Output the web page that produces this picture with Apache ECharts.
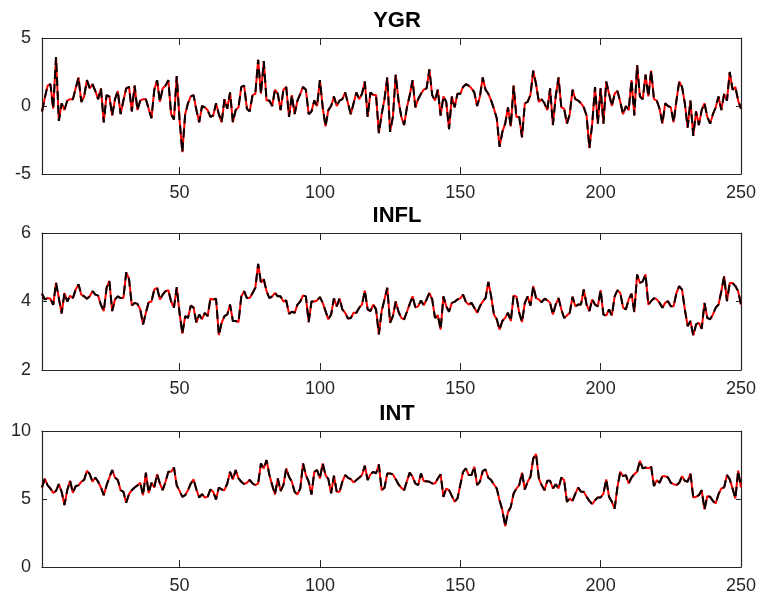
<!DOCTYPE html>
<html>
<head>
<meta charset="utf-8">
<script src="https://cdn.jsdelivr.net/npm/echarts@6/dist/echarts.min.js"></script>
<style>
html,body{margin:0;padding:0;background:#fff;}
#chart{width:759px;height:599px;}
</style>
</head>
<body>
<div id="chart"></div>
<script>
const titles = ["YGR", "INFL", "INT"];
const xTickLabels = [50, 100, 150, 200, 250];
const yTicks = [[-5, 0, 5], [2, 4, 6], [0, 5, 10]];

const ygr = [
-0.4, 0.6, 1.5, 1.6, -0.2, 3.6, -1.1, 0.2, -0.3, 0.4,
0.5, 0.5, 1.3, 2.1, 0.3, 0.7, 1.9, 1.3, 1.6, 1.1,
0.5, 1.3, -1.2, 0.8, 0.7, -0.7, 0.5, 1.1, -0.6, 0.4,
1.3, 1.4, -0.4, 1.5, -0.3, 0.4, 0.5, 0.5, -0.2, -0.9,
1.2, 1.9, 0.3, 1.3, 1.5, 1.9, -0.6, -1.0, 2.2, -1.0,
-3.4, -0.6, 0.2, 0.7, 0.8, -0.3, -1.2, 0.0, -0.1, -0.3,
-0.8, -0.7, 0.2, -0.6, -1.2, 0.5, -0.2, 1.0, -1.2, -0.3,
-0.1, 1.4, 1.5, -0.2, -0.4, 0.8, 0.9, 3.4, 0.9, 3.3,
0.4, 0.4, 0.0, 1.2, 0.9, -0.3, 1.2, 1.4, -0.8, 0.8,
-0.6, 0.4, 0.9, 1.4, 1.2, -0.6, -0.4, 0.4, 0.0, 1.9,
-0.1, -1.5, -0.3, 0.0, 0.7, 0.0, 0.4, 0.5, 1.0, 0.2,
-0.6, 0.2, 1.0, 0.5, 0.9, 1.8, -0.8, 1.0, 0.8, 0.8,
-2.0, -0.6, 0.5, 2.1, -1.9, -0.8, 2.3, 0.4, -0.8, -1.4,
-0.1, 0.8, 1.9, -0.1, 0.5, 0.9, 1.2, 1.3, 2.7, 0.8,
0.4, 1.2, -0.7, 0.7, 0.3, -1.7, 0.7, -0.1, 0.9, 0.9,
1.4, 1.6, 1.5, 1.3, 1.0, 0.0, 0.7, 2.1, 1.2, 0.9,
0.4, -0.2, -0.9, -3.0, -1.9, -1.3, -0.1, -1.5, 1.5, -0.8,
-0.8, -2.3, 0.2, 0.3, 0.8, 2.6, 1.6, 0.3, 0.5, 0.2,
-0.3, 1.3, -1.4, 0.7, 2.1, -0.1, -0.2, -1.3, -0.6, 1.2,
0.5, 0.4, 0.2, -0.1, -0.7, -3.1, -1.3, 1.4, -1.3, 1.3,
-1.3, 1.8, 0.9, 0.0, 0.9, 1.1, 0.3, -0.6, 0.0, -0.3,
1.9, -0.7, 3.0, 0.7, 0.5, 2.3, 0.7, 2.6, 0.5, 0.4,
-0.2, -1.3, 0.2, 0.0, -0.1, -1.2, 0.4, 1.8, 1.4, 0.2,
-1.6, 0.4, -2.2, -0.4, -1.4, -0.3, 0.2, -0.8, -1.3, -0.6,
-0.1, 0.7, -0.3, 0.9, 0.4, 2.5, 1.2, 1.4, 0.4, -0.2
];

const infl = [
4.23, 4.06, 4.1, 4.08, 3.9, 4.55, 4.1, 3.65, 4.25, 4.0,
4.17, 4.1, 4.35, 4.5, 4.2, 4.15, 4.08, 4.15, 4.3, 4.2,
4.17, 3.9, 3.72, 4.4, 4.6, 3.72, 4.06, 4.15, 4.1, 4.1,
4.85, 4.66, 3.88, 3.96, 3.93, 3.77, 3.33, 3.67, 3.98, 4.0,
4.35, 4.4, 4.06, 4.2, 4.3, 4.33, 4.0, 3.82, 4.42, 3.67,
3.06, 3.57, 3.52, 3.88, 3.82, 3.38, 3.62, 3.48, 3.67, 3.57,
4.08, 4.06, 4.08, 3.02, 3.38, 3.57, 3.62, 3.91, 3.43, 3.43,
3.4, 4.15, 4.3, 4.1, 4.1, 4.25, 4.4, 5.1, 4.55, 4.65,
4.3, 4.1, 4.15, 4.25, 4.15, 4.15, 4.0, 4.03, 3.64, 3.7,
3.67, 3.91, 4.0, 4.18, 4.15, 3.4, 4.0, 4.0, 4.03, 4.13,
3.96, 3.72, 3.48, 3.62, 4.09, 3.86, 4.09, 3.77, 3.67, 3.5,
3.52, 3.67, 3.67, 3.82, 3.91, 4.32, 3.77, 3.72, 3.91, 3.77,
3.04, 3.72, 4.06, 4.4, 3.38, 3.57, 4.0, 3.7, 3.52, 3.48,
3.7, 3.93, 4.15, 3.83, 3.86, 4.03, 3.89, 4.06, 4.25, 4.06,
3.52, 3.6, 3.18, 4.15, 3.86, 3.7, 3.96, 3.99, 4.06, 4.09,
4.2, 3.99, 3.91, 3.96, 3.82, 3.67, 3.86, 4.0, 4.1, 4.57,
4.15, 3.62, 3.48, 3.18, 3.43, 3.52, 3.67, 3.43, 4.17, 4.15,
3.67, 3.4, 3.96, 4.15, 3.88, 4.45, 4.1, 4.06, 3.98, 4.08,
4.04, 3.96, 3.62, 3.91, 4.1, 3.77, 3.52, 3.59, 3.67, 4.14,
3.86, 3.91, 3.91, 4.35, 3.91, 3.72, 4.06, 3.91, 3.86, 4.33,
3.62, 3.59, 3.77, 3.59, 4.15, 4.33, 4.25, 3.82, 3.77, 4.06,
4.23, 3.69, 4.79, 4.54, 4.59, 4.79, 3.91, 4.01, 4.1, 4.06,
3.96, 3.82, 3.96, 4.01, 3.86, 3.86, 4.25, 4.45, 4.35, 3.77,
3.28, 3.43, 3.01, 3.33, 3.38, 3.2, 3.96, 3.52, 3.48, 3.62,
3.82, 3.91, 4.3, 4.74, 4.01, 4.54, 4.54, 4.45, 4.3, 3.91
];

const intr = [
5.85, 6.5, 6.0, 5.77, 5.45, 5.6, 6.1, 5.53, 4.55, 5.65,
6.34, 5.45, 5.95, 6.0, 6.27, 6.4, 7.08, 6.83, 6.27, 6.58,
6.27, 5.85, 5.28, 6.0, 6.58, 7.13, 6.58, 6.4, 5.65, 5.53,
4.72, 5.36, 5.65, 5.85, 6.0, 6.19, 5.28, 6.93, 5.45, 6.19,
5.85, 6.83, 6.14, 5.65, 6.27, 7.0, 7.0, 7.32, 6.0, 5.6,
5.16, 5.28, 5.65, 6.14, 6.44, 5.7, 5.11, 5.36, 5.11, 5.16,
5.7, 5.53, 4.96, 5.85, 5.7, 5.65, 6.14, 7.0, 6.44, 7.13,
6.51, 6.27, 6.1, 6.19, 6.4, 6.14, 6.02, 6.14, 7.62, 7.25,
7.86, 6.76, 6.02, 5.33, 6.51, 5.58, 6.02, 7.25, 6.63, 6.27,
5.53, 5.33, 5.77, 7.62, 6.76, 6.27, 5.33, 7.0, 7.13, 6.51,
7.62, 6.76, 6.46, 5.41, 6.71, 5.53, 5.53, 6.27, 6.76, 6.56,
6.46, 6.22, 6.39, 6.56, 6.76, 7.44, 6.39, 6.81, 7.0, 6.88,
7.54, 5.65, 5.82, 6.88, 6.88, 6.81, 6.46, 6.07, 5.82, 5.65,
6.31, 6.95, 6.63, 6.14, 6.02, 6.88, 6.31, 6.31, 6.27, 6.14,
6.14, 6.51, 6.81, 5.16, 5.77, 5.65, 5.23, 4.79, 5.04, 6.02,
7.0, 7.25, 6.76, 6.76, 7.37, 6.02, 6.27, 7.05, 7.17, 6.56,
6.39, 6.07, 5.77, 4.9, 4.18, 3.0, 4.05, 4.42, 5.4, 5.77,
6.02, 6.93, 5.7, 6.27, 6.63, 7.99, 8.3, 6.51, 6.02, 5.65,
6.34, 6.34, 5.77, 6.09, 5.77, 6.58, 6.39, 4.79, 5.04, 4.86,
5.4, 5.85, 5.53, 5.53, 5.16, 4.86, 4.62, 4.91, 5.11, 5.11,
5.4, 6.44, 5.16, 4.79, 4.3, 5.9, 7.0, 6.68, 6.76, 6.14,
6.58, 6.83, 7.0, 7.81, 7.25, 7.32, 7.25, 7.37, 5.95, 6.39,
6.19, 6.68, 6.68, 6.58, 6.19, 6.09, 6.02, 6.19, 6.68, 6.34,
6.27, 6.88, 5.11, 5.16, 5.28, 5.65, 4.23, 5.21, 5.16, 4.86,
4.67, 5.36, 5.77, 5.85, 6.76, 6.44, 5.77, 5.04, 7.08, 5.85
];

const seriesData = [ygr, infl, intr];
const periods = ygr.map((_, i) => i + 1);

const AX = '#262626';
const FONT = 'Liberation Sans, Arial, Helvetica, sans-serif';
const gridTops = [38, 233, 431];
const gridHeights = [136, 137, 136];

const grids = [], xAxes = [], yAxes = [], series = [], titleArr = [];
for (let k = 0; k < 3; k++) {
  grids.push({ left: 42, right: 17, top: gridTops[k], height: gridHeights[k], containLabel: false });
  const yt = yTicks[k];
  const yInt = yt[1] - yt[0];
  const baseX = {
    gridIndex: k, type: 'value', min: periods[0], max: periods[periods.length - 1],
    axisLine: { show: true, onZero: false, lineStyle: { color: AX, width: 1.2 } },
    splitLine: { show: false },
    axisTick: { show: true, inside: true, length: 7, customValues: xTickLabels, lineStyle: { color: AX, width: 1 } }
  };
  xAxes.push(Object.assign({}, baseX, {
    position: 'bottom',
    axisLabel: { show: true, customValues: xTickLabels, color: AX, fontSize: 18, fontFamily: FONT, margin: 10 }
  }));
  xAxes.push(Object.assign({}, baseX, { position: 'top', axisLabel: { show: false } }));
  const baseY = {
    gridIndex: k, type: 'value', min: yt[0], max: yt[yt.length - 1], interval: yInt,
    axisLine: { show: true, onZero: false, lineStyle: { color: AX, width: 1.2 } },
    splitLine: { show: false },
    axisTick: { show: true, inside: true, length: 5, lineStyle: { color: AX, width: 1 } }
  };
  yAxes.push(Object.assign({}, baseY, {
    position: 'left',
    axisLabel: { show: true, color: AX, fontSize: 18, fontFamily: FONT, margin: 11 }
  }));
  yAxes.push(Object.assign({}, baseY, { position: 'right', axisLabel: { show: false } }));

  const pts = seriesData[k].map((v, i) => [periods[i], v]);
  series.push({
    type: 'line', xAxisIndex: 2 * k, yAxisIndex: 2 * k, data: pts,
    showSymbol: false, symbol: 'none', silent: true,
    lineStyle: { color: '#ff0000', width: 2 }
  });
  series.push({
    type: 'line', xAxisIndex: 2 * k, yAxisIndex: 2 * k, data: pts,
    showSymbol: false, symbol: 'none', silent: true,
    lineStyle: { color: '#000000', width: 2, type: [9, 5] }
  });
  titleArr.push({
    text: titles[k], left: 392, textAlign: 'center', top: gridTops[k] - 33,
    textStyle: { fontSize: 22, fontWeight: 'bold', color: '#000', fontFamily: FONT }
  });
}

const chart = echarts.init(document.getElementById('chart'), null, { renderer: 'canvas' });
chart.setOption({
  animation: false,
  backgroundColor: '#ffffff',
  title: titleArr,
  grid: grids,
  xAxis: xAxes,
  yAxis: yAxes,
  series: series
});
</script>
</body>
</html>
